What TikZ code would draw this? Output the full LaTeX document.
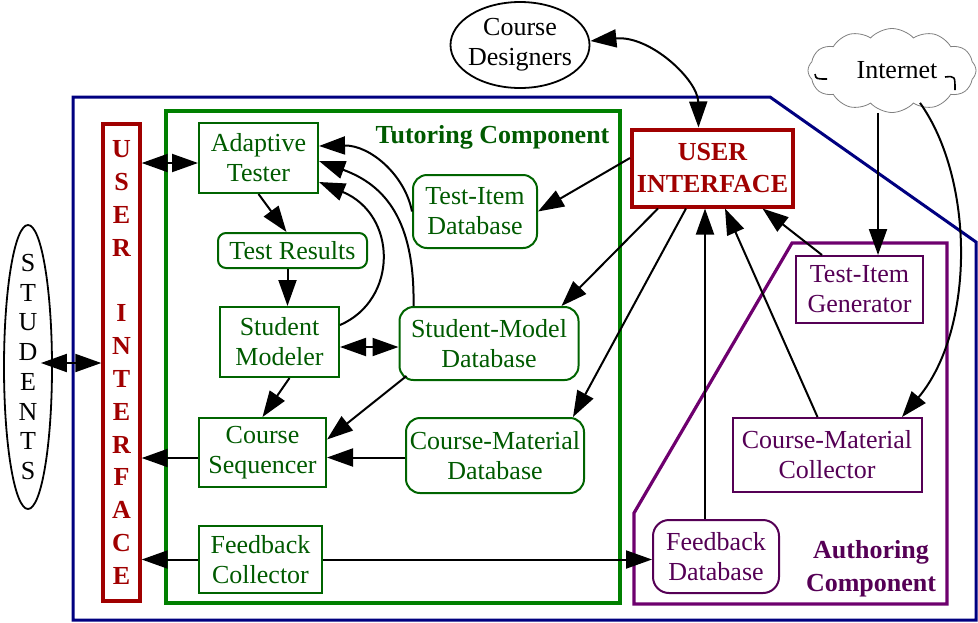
\documentclass[tikz,border=0pt]{standalone}
\usepackage{fontspec}
\setmainfont{Liberation Serif}
\usetikzlibrary{arrows.meta,shapes.geometric,shapes.symbols,calc}
\definecolor{gtext}{RGB}{0,90,0}
\definecolor{gline}{RGB}{0,100,0}
\definecolor{gouter}{RGB}{0,128,0}
\definecolor{rcol}{RGB}{160,0,0}
\definecolor{pcol}{RGB}{85,0,85}
\definecolor{pouter}{RGB}{110,0,110}
\definecolor{bcol}{RGB}{0,0,128}
\begin{document}
\begin{tikzpicture}[x=0.5pt,y=-0.5pt,
  txt/.style={font=\fontsize{13pt}{15pt}\selectfont, align=center, inner sep=0pt},
  gbox/.style={txt, draw=gline, text=gtext, line width=1pt},
  grbox/.style={gbox, rounded corners=7pt},
  pbox/.style={txt, draw=pcol, text=pcol, line width=1pt},
  prbox/.style={pbox, rounded corners=8pt},
  arr/.style={-{Triangle[length=13pt,width=9pt]}, line width=1pt},
  dbl/.style={{Triangle[length=13pt,width=9pt]}-{Triangle[length=13pt,width=9pt]}, line width=1pt}]
\path[use as bounding box] (0,0) rectangle (978,622);

% outer regions
\draw[bcol, line width=1.5pt] (73,97) -- (770,97) -- (976,242) -- (976,620) -- (73,620) -- cycle;
\draw[gouter, line width=1.6pt] (166,111) rectangle (620,603);
\draw[pouter, line width=1.6pt] (634,604) -- (634,513) -- (792,243) -- (947,243) -- (947,604) -- cycle;

% labels of regions
\node[txt, font=\fontsize{13pt}{15pt}\selectfont\bfseries, text=gtext] (tutlbl) at (492.5,137) {Tutoring Component};
\node[txt, font=\fontsize{13pt}{16.5pt}\selectfont\bfseries, text=pcol] (authlbl) at (871,568.5) {Authoring\\Component};

% students
\node[ellipse, draw, line width=0.9pt, minimum width=24pt, minimum height=142pt, inner sep=0pt] (stud) at (28,367) {};
\node[txt, font=\fontsize{13pt}{14.85pt}\selectfont] (studtxt) at (stud.center) {S\\T\\U\\D\\E\\N\\T\\S};

% left user interface
\node[draw=rcol, line width=1.7pt, minimum width=18.5pt, minimum height=238.5pt, inner sep=0pt] (lui) at (121.5,362.5) {};
\node[txt, text=rcol, font=\fontsize{13pt}{16.4pt}\selectfont\bfseries] (luitxt) at (lui.center) {U\\S\\E\\R\\[16.4pt]I\\N\\T\\E\\R\\F\\A\\C\\E};

% tutoring nodes
\node[gbox, minimum width=59.5pt, minimum height=35pt] (adapt) at (258.5,158) {Adaptive\\Tester};
\node[grbox, rounded corners=4pt, minimum width=74.5pt, minimum height=17.5pt] (tres) at (292.5,250.5) {Test Results};
\node[gbox, minimum width=59.5pt, minimum height=35pt] (smod) at (279.5,342) {Student\\Modeler};
\node[grbox, minimum width=89.5pt, minimum height=36.5pt] (smdb) at (489,343.5) {Student-Model\\Database};
\node[grbox, minimum width=62pt, minimum height=36.5pt] (tidb) at (475,211.5) {Test-Item\\Database};
\node[gbox, minimum width=63.5pt, minimum height=34.5pt] (cseq) at (262.5,452.5) {Course\\Sequencer};
\node[gbox, minimum width=61.5pt, minimum height=33.5pt] (fcol) at (260.5,559.5) {Feedback\\Collector};
\node[grbox, minimum width=89pt, minimum height=37.5pt] (cmdb) at (495,455.5) {Course-Material\\Database};

% top user interface
\node[txt, draw=rcol, text=rcol, line width=2pt, font=\fontsize{13pt}{16pt}\selectfont\bfseries, minimum width=80.5pt, minimum height=38.5pt] (ui) at (712.5,168) {USER\\INTERFACE};

% authoring nodes
\node[pbox, minimum width=63.5pt, minimum height=33.5pt] (tig) at (859.5,289.5) {Test-Item\\Generator};
\node[pbox, minimum width=94.5pt, minimum height=37pt] (cmc) at (827,455) {Course-Material\\Collector};
\node[prbox, minimum width=63pt, minimum height=36.5pt] (fdb) at (716,556.5) {Feedback\\Database};

% course designers
\node[ellipse, draw, line width=0.9pt, minimum width=69.5pt, minimum height=43pt, inner sep=0pt] (cd) at (520,45) {};
\node[txt] (cdtxt) at (cd.center) {Course\\Designers};

% internet cloud
\node[cloud, draw=gray, line width=0.4pt, cloud puffs=12, cloud puff arc=95, aspect=2, minimum width=84pt, minimum height=42pt, inner sep=0pt] (inet) at (892,70.5) {};
\node[txt] (inettxt) at (897,70) {Internet};
\draw[line width=0.8pt] (815,74) .. controls (816,79) .. (827,79);
\draw[line width=0.8pt] (945,77) .. controls (955,76) .. (955,90);

% connectors
\coordinate (p1) at ([xshift=-6pt,yshift=2pt]stud.east);
\draw[dbl] (p1) -- (p1 -| lui.west);
\coordinate (p2) at ([yshift=-2.5pt]adapt.west);
\draw[dbl] (p2 -| lui.east) -- (p2);
\draw[arr] (adapt.south) -- ([xshift=-3pt]tres.north);
\coordinate (p4) at ([xshift=-2.5pt]tres.south);
\draw[arr] (p4) -- (p4 |- smod.north);
\coordinate (p5) at ([yshift=-2.5pt]smod.east);
\draw[dbl] (p5) -- (p5 -| smdb.west);
\draw[arr] ([yshift=8.5pt]smod.east) .. controls (398,300) and (398,215) .. ([yshift=-12pt]adapt.east);
\draw[arr] ([xshift=7.5pt]smdb.north west) .. controls (415,220) and (385,185) .. ([yshift=-1.5pt]adapt.east);
\draw[arr] (tidb.west) .. controls (405,175) and (370,145) .. ([yshift=6pt]adapt.east);
\draw[arr] ([xshift=5pt]smod.south) -- (cseq.north);
\draw[arr] ([xshift=4pt,yshift=2.5pt]smdb.south west) -- ([yshift=6.5pt]cseq.east);
\coordinate (p11) at ([yshift=-1pt]cmdb.west);
\draw[arr] (p11) -- (p11 -| cseq.east);
\coordinate (p12) at ([yshift=-2.75pt]cseq.west);
\draw[arr] (p12) -- (p12 -| lui.east);
\draw[arr] (fcol.west) -- (fcol.west -| lui.east);
\draw[arr] (fcol.east) -- (fcol.east -| fdb.west);
\draw[dbl] ([yshift=2pt]cd.east) .. controls (650,35) and (698,80) .. ([xshift=-7pt]ui.north);
\draw[arr] ([yshift=5pt]ui.west) -- (tidb.east);
\draw[arr] ([xshift=14pt]ui.south west) -- ([xshift=-9pt]smdb.north east);
\draw[arr] ([xshift=28pt]ui.south west) -- ([xshift=-6pt]cmdb.north east);
\coordinate (p19) at ([xshift=-5.5pt]fdb.north);
\draw[arr] (p19) -- (p19 |- ui.south);
\draw[arr] ([xshift=-4.75pt]cmc.north) -- ([xshift=6.25pt]ui.south);
\draw[arr] ([xshift=13.5pt]tig.north west) -- ([xshift=25pt]ui.south);
\coordinate (p22) at ([xshift=9.25pt]tig.north);
\draw[arr] (p22 |- inet.south) -- (p22);
\draw[arr] ([xshift=14pt,yshift=5pt]inet.south) .. controls (975,180) and (975,330) .. ([xshift=37.5pt]cmc.north);
\end{tikzpicture}
\end{document}
